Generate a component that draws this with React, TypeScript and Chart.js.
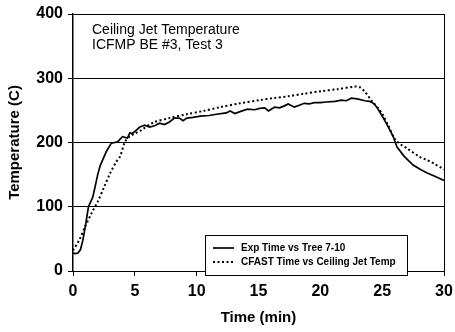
import React, { useEffect, useRef } from "react";
import { Chart, registerables } from "chart.js";

Chart.register(...registerables);

const FONT = "'Liberation Sans', Arial, sans-serif";

const expLabel = "Exp Time vs Tree 7-10";
const cfastLabel = "CFAST Time vs Ceiling Jet Temp";
const titleLines = ["Ceiling Jet Temperature", "ICFMP BE #3, Test 3"];

const expTime = [0, 0.2, 0.4, 0.6, 0.8, 1.0, 1.25, 1.6, 2.0, 2.2, 2.7, 3.1, 3.6, 4.0, 4.4, 4.6, 4.8, 5.1, 5.4, 5.8, 6.2, 6.6, 7.0, 7.4, 7.8, 8.2, 8.6, 8.9, 9.2, 9.7, 10.3, 11.0, 11.6, 12.4, 12.7, 13.1, 13.5, 14.1, 14.7, 15.1, 15.5, 15.8, 16.3, 16.7, 17.1, 17.4, 17.9, 18.3, 18.7, 19.1, 19.5, 20.0, 20.5, 21.2, 21.7, 22.1, 22.5, 23.0, 23.6, 24.0, 24.3, 24.6, 25.1, 25.5, 25.9, 26.2, 26.8, 27.5, 28.1, 28.6, 29.3, 30.0];
const expTemp = [28, 27, 28, 33, 48, 70, 100, 115, 150, 164, 186, 199, 201, 209, 207, 215, 214, 219, 224, 227, 224, 226, 230, 228, 232, 238, 238, 234, 238, 239, 241, 242, 244, 246, 249, 245, 248, 252, 251, 253, 254, 249, 255, 254, 257, 260, 255, 258, 261, 260, 262, 262, 263, 264, 266, 265, 269, 268, 265, 264, 261, 254, 238, 224, 209, 193, 178, 165, 158, 153, 147, 141];

const cfastTime = [0, 0.5, 1.0, 1.5, 2.0, 2.5, 3.0, 3.5, 3.8, 4.2, 4.6, 5.0, 5.5, 6.5, 7.8, 9.2, 10.5, 11.9, 13.5, 15.1, 16.2, 17.4, 18.7, 20.1, 21.4, 22.8, 23.2, 23.6, 24.2, 24.6, 25.0, 25.5, 26.0, 26.5, 27.0, 28.0, 28.6, 29.3, 30.0];
const cfastTemp = [32, 48, 70, 90, 108, 130, 152, 170, 178, 201, 210, 214, 219, 231, 238, 244, 249, 255, 261, 266, 269, 272, 276, 280, 283, 287, 286, 279, 264, 255, 245, 226, 206, 197, 191, 178, 173, 166, 158];

const xTicks = [0, 5, 10, 15, 20, 25, 30];
const yTicks = [0, 100, 200, 300, 400];

const overlayPlugin = {
  id: "overlay",
  afterDraw(chart: any) {
    const ctx = chart.ctx;
    const a = chart.chartArea;
    ctx.save();
    // right border
    ctx.strokeStyle = "#000";
    ctx.lineWidth = 1;
    ctx.beginPath();
    ctx.moveTo(Math.round(a.right) + 0.5, a.top);
    ctx.lineTo(Math.round(a.right) + 0.5, a.bottom);
    ctx.stroke();
    // title text
    ctx.fillStyle = "#000";
    ctx.font = `14px ${FONT}`;
    ctx.textBaseline = "middle";
    ctx.textAlign = "left";
    ctx.fillText(titleLines[0], a.left + 19, 30);
    ctx.fillText(titleLines[1], a.left + 19, 45);
    // legend box
    const bx = 205, by = 235, bw = 202, bh = 40;
    ctx.fillStyle = "#fff";
    ctx.fillRect(bx, by, bw, bh);
    ctx.strokeStyle = "#000";
    ctx.lineWidth = 1;
    ctx.strokeRect(bx + 0.5, by + 0.5, bw, bh);
    const ds = chart.data.datasets;
    const rows = [248, 262];
    ds.forEach((d: any, i: number) => {
      ctx.beginPath();
      ctx.setLineDash(d.borderDash || []);
      ctx.lineWidth = d.borderWidth;
      ctx.moveTo(213, rows[i]);
      ctx.lineTo(234, rows[i]);
      ctx.stroke();
      ctx.setLineDash([]);
      ctx.fillStyle = "#000";
      ctx.font = `bold 10px ${FONT}`;
      ctx.textBaseline = "middle";
      ctx.fillText(d.label, 241, rows[i]);
    });
    ctx.restore();
  },
};

export default function App() {
  const ref = useRef<HTMLCanvasElement>(null);
  useEffect(() => {
    const chart = new Chart(ref.current as HTMLCanvasElement, {
      type: "line",
      data: {
        datasets: [
          {
            label: expLabel,
            data: expTime.map((t, i) => ({ x: t, y: expTemp[i] })),
            borderColor: "#000",
            borderWidth: 1.7,
            pointRadius: 0,
            tension: 0,
            fill: false,
          },
          {
            label: cfastLabel,
            data: cfastTime.map((t, i) => ({ x: t, y: cfastTemp[i] })),
            borderColor: "#000",
            borderWidth: 2,
            borderDash: [2, 2.5],
            pointRadius: 0,
            tension: 0.3,
            fill: false,
          },
        ],
      },
      options: {
        animation: false,
        responsive: false,
        devicePixelRatio: 1,
        layout: { padding: { top: 14, right: 11, left: 0, bottom: 0 } },
        plugins: { legend: { display: false }, tooltip: { enabled: false } },
        scales: {
          x: {
            type: "linear",
            min: 0,
            max: 30,
            afterBuildTicks: (s: any) => { s.ticks = xTicks.map((v) => ({ value: v })); },
            afterFit: (s: any) => { s.height = 61; s.paddingLeft = 0; s.paddingRight = 0; },
            ticks: { color: "#000", padding: 6, font: { family: FONT, size: 16, weight: "bold" } },
            grid: { drawOnChartArea: false, drawTicks: true, tickLength: 5, color: "#000" },
            border: { display: true, color: "#000", width: 1 },
            title: { display: true, text: "Time (min)", color: "#000", padding: { top: 0, bottom: 5 }, font: { family: FONT, size: 15, weight: "bold" } },
          },
          y: {
            min: 0,
            max: 400,
            afterBuildTicks: (s: any) => { s.ticks = yTicks.map((v) => ({ value: v })); },
            afterFit: (s: any) => { s.width = 73; s.paddingTop = 0; s.paddingBottom = 0; },
            ticks: { color: "#000", padding: 5, font: { family: FONT, size: 16, weight: "bold" } },
            grid: { drawOnChartArea: true, drawTicks: true, tickLength: 5, color: "#000", lineWidth: 1 },
            border: { display: true, color: "#000", width: 1.5 },
            title: { display: true, text: "Temperature (C)", color: "#000", padding: { top: 6, bottom: 0 }, font: { family: FONT, size: 15, weight: "bold" } },
          },
        },
      },
      plugins: [overlayPlugin],
    } as any);
    return () => chart.destroy();
  }, []);
  return (
    <div style={{ position: "fixed", left: 0, top: 0, width: 455, height: 332, background: "#fff" }}>
      <canvas ref={ref} width={455} height={332} style={{ width: 455, height: 332 }} />
    </div>
  );
}
